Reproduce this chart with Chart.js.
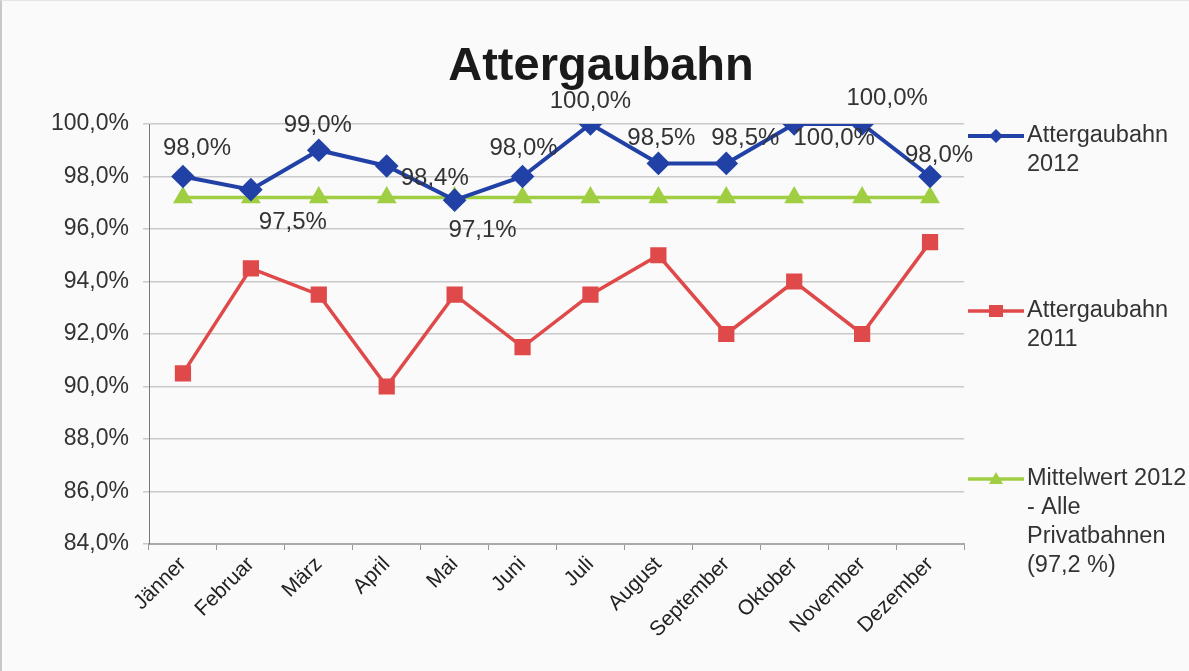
<!DOCTYPE html>
<html>
<head>
<meta charset="utf-8">
<script src="https://cdn.jsdelivr.net/npm/chart.js@4.4.1/dist/chart.umd.min.js"></script>
<style>
    html, body { margin: 0; padding: 0; background: #fafafa; }
    #wrap { position: relative; width: 1189px; height: 671px; box-sizing: border-box; border-left: 2px solid #c8c8c8; border-top: 1px solid #e4e4e4; }
    canvas { display: block; }
</style>
</head>
<body>
<div id="wrap"><canvas id="c" width="1187" height="670"></canvas></div>
<script>
/* ─── data ─────────────────────────────────────────────────────────────── */
const months = ['Jänner', 'Februar', 'März', 'April', 'Mai', 'Juni', 'Juli', 'August', 'September', 'Oktober', 'November', 'Dezember'];
const values2012 = [98.0, 97.5, 99.0, 98.4, 97.1, 98.0, 100.0, 98.5, 98.5, 100.0, 100.0, 98.0];
const values2011 = [90.5, 94.5, 93.5, 90.0, 93.5, 91.5, 93.5, 95.0, 92.0, 94.0, 92.0, 95.5];
const average2012 = [97.2, 97.2, 97.2, 97.2, 97.2, 97.2, 97.2, 97.2, 97.2, 97.2, 97.2, 97.2];
const seriesNames = ['Attergaubahn\n2012', 'Attergaubahn\n2011', 'Mittelwert 2012\n- Alle\nPrivatbahnen\n(97,2 %)'];
const yTicks = [84, 86, 88, 90, 92, 94, 96, 98, 100];

// label offsets (dx, dy) for the 2012 value labels
const labelOffsets = [[14, -28], [42, 33], [-1, -25], [48, 12], [28, 30], [1, -28], [0, -23], [3, -25], [19, -25], [40, 14], [25, -26], [9, -21]];

const FONT = "'Liberation Sans', Arial, sans-serif";
const fmt = v => v.toFixed(1).replace('.', ',') + '%';

/* value labels for the 2012 line */
const valueLabels = {
    id: 'valueLabels',
    afterDatasetsDraw(chart) {
        const ctx = chart.ctx;
        const meta = chart.getDatasetMeta(0);
        ctx.save();
        ctx.font = `24px ${FONT}`;
        ctx.fillStyle = '#333';
        ctx.textAlign = 'center';
        ctx.textBaseline = 'middle';
        meta.data.forEach((pt, i) => {
            const [dx, dy] = labelOffsets[i];
            ctx.fillText(fmt(values2012[i]), pt.x + dx, pt.y + dy);
        });
        ctx.restore();
    }
};

/* title + legend drawn at the right */
const sideLegend = {
    id: 'sideLegend',
    afterDraw(chart) {
        const ctx = chart.ctx;
        ctx.save();
        ctx.font = `bold 47px ${FONT}`;
        ctx.fillStyle = '#1a1a1a';
        ctx.textAlign = 'center';
        ctx.textBaseline = 'alphabetic';
        ctx.fillText('Attergaubahn', 599, 79);

        const tops = [135, 310, 478];
        ctx.font = `23.5px ${FONT}`;
        ctx.textAlign = 'left';
        ctx.textBaseline = 'middle';
        chart.data.datasets.forEach((ds, i) => {
            const y = tops[i];
            ctx.strokeStyle = ds.borderColor;
            ctx.lineWidth = ds.borderWidth;
            ctx.beginPath();
            ctx.moveTo(966, y);
            ctx.lineTo(1022, y);
            ctx.stroke();
            ctx.fillStyle = ds.backgroundColor;
            const r = 7;
            ctx.beginPath();
            if (ds.pointStyle === 'rectRot') {
                ctx.moveTo(994, y - r); ctx.lineTo(994 + r, y); ctx.lineTo(994, y + r); ctx.lineTo(994 - r, y);
            } else if (ds.pointStyle === 'rect') {
                ctx.rect(994 - r, y - r + 1, 2 * r, 2 * r - 2);
            } else {
                ctx.moveTo(994, y - r); ctx.lineTo(994 + r, y + r - 2); ctx.lineTo(994 - r, y + r - 2);
            }
            ctx.closePath();
            ctx.fill();
            ctx.fillStyle = '#333';
            seriesNames[i].split('\n').forEach((line, k) => {
                ctx.fillText(line, 1025, y + k * 29);
            });
        });
        ctx.restore();
    }
};

new Chart(document.getElementById('c'), {
    type: 'line',
    data: {
        labels: months,
        datasets: [
            {
                label: seriesNames[0],
                data: values2012,
                borderColor: '#2141a6',
                backgroundColor: '#2141a6',
                borderWidth: 4,
                pointStyle: 'rectRot',
                pointRadius: 9,
                tension: 0,
            },
            {
                label: seriesNames[1],
                data: values2011,
                borderColor: '#e0494a',
                backgroundColor: '#e0494a',
                borderWidth: 3.5,
                pointStyle: 'rect',
                pointRadius: 9,
                tension: 0,
            },
            {
                label: seriesNames[2],
                data: average2012,
                borderColor: '#a0ce42',
                backgroundColor: '#a0ce42',
                borderWidth: 3.5,
                pointStyle: 'triangle',
                pointRadius: 8,
                tension: 0,
            }
        ]
    },
    options: {
        animation: false,
        responsive: false,
        layout: { padding: { top: 123, left: 0, right: 225, bottom: 0 } },
        plugins: {
            legend: { display: false },
            tooltip: { enabled: false },
        },
        scales: {
            x: {
                offset: true,
                afterFit: s => { s.height = 127; },
                grid: { offset: true, drawOnChartArea: false, drawTicks: true, tickLength: 6, color: '#999' },
                border: { color: '#aaa', width: 2 },
                ticks: {
                    color: '#222',
                    font: { size: 21, family: FONT },
                    minRotation: 45,
                    maxRotation: 45,
                    padding: 2,
                },
            },
            y: {
                min: 84,
                max: 100,
                afterFit: s => { s.width = 147; },
                afterBuildTicks: s => { s.ticks = yTicks.map(v => ({ value: v })); },
                grid: { color: '#c9c9c9', lineWidth: 1.5, tickLength: 6 },
                border: { color: '#777', width: 1 },
                ticks: {
                    color: '#333',
                    font: { size: 23, family: FONT },
                    padding: 14,
                    callback: v => fmt(v),
                },
            }
        }
    },
    plugins: [valueLabels, sideLegend]
});
</script>
</body>
</html>
